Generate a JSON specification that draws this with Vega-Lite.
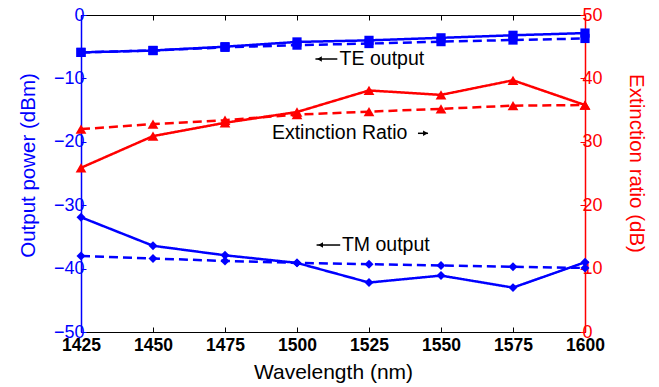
{
  "$schema": "https://vega.github.io/schema/vega-lite/v6.json",
  "autosize": "none",
  "width": 504,
  "height": 317,
  "padding": {"left": 81, "top": 15, "right": 74, "bottom": 55},
  "background": "white",
  "config": {
    "font": "Liberation Sans",
    "view": {"stroke": "black", "strokeWidth": 1}
  },
  "datasets": {
    "pts": [
      {"wl": 1425, "v": -5.9, "s": "TE", "d": "solid"},
      {"wl": 1450, "v": -5.6, "s": "TE", "d": "solid"},
      {"wl": 1475, "v": -5.0, "s": "TE", "d": "solid"},
      {"wl": 1500, "v": -4.25, "s": "TE", "d": "solid"},
      {"wl": 1525, "v": -4.0, "s": "TE", "d": "solid"},
      {"wl": 1550, "v": -3.6, "s": "TE", "d": "solid"},
      {"wl": 1575, "v": -3.2, "s": "TE", "d": "solid"},
      {"wl": 1600, "v": -2.85, "s": "TE", "d": "solid"},
      {"wl": 1425, "v": -5.9, "s": "TE", "d": "dashed"},
      {"wl": 1450, "v": -5.6, "s": "TE", "d": "dashed"},
      {"wl": 1475, "v": -5.1, "s": "TE", "d": "dashed"},
      {"wl": 1500, "v": -4.75, "s": "TE", "d": "dashed"},
      {"wl": 1525, "v": -4.5, "s": "TE", "d": "dashed"},
      {"wl": 1550, "v": -4.2, "s": "TE", "d": "dashed"},
      {"wl": 1575, "v": -3.95, "s": "TE", "d": "dashed"},
      {"wl": 1600, "v": -3.7, "s": "TE", "d": "dashed"},
      {"wl": 1425, "v": -31.9, "s": "TM", "d": "solid"},
      {"wl": 1450, "v": -36.4, "s": "TM", "d": "solid"},
      {"wl": 1475, "v": -37.9, "s": "TM", "d": "solid"},
      {"wl": 1500, "v": -39.1, "s": "TM", "d": "solid"},
      {"wl": 1525, "v": -42.2, "s": "TM", "d": "solid"},
      {"wl": 1550, "v": -41.1, "s": "TM", "d": "solid"},
      {"wl": 1575, "v": -43.0, "s": "TM", "d": "solid"},
      {"wl": 1600, "v": -39.0, "s": "TM", "d": "solid"},
      {"wl": 1425, "v": -38.0, "s": "TM", "d": "dashed"},
      {"wl": 1450, "v": -38.4, "s": "TM", "d": "dashed"},
      {"wl": 1475, "v": -38.8, "s": "TM", "d": "dashed"},
      {"wl": 1500, "v": -39.1, "s": "TM", "d": "dashed"},
      {"wl": 1525, "v": -39.3, "s": "TM", "d": "dashed"},
      {"wl": 1550, "v": -39.5, "s": "TM", "d": "dashed"},
      {"wl": 1575, "v": -39.7, "s": "TM", "d": "dashed"},
      {"wl": 1600, "v": -39.9, "s": "TM", "d": "dashed"},
      {"wl": 1425, "v": 25.9, "s": "ER", "d": "solid"},
      {"wl": 1450, "v": 30.9, "s": "ER", "d": "solid"},
      {"wl": 1475, "v": 33.0, "s": "ER", "d": "solid"},
      {"wl": 1500, "v": 34.7, "s": "ER", "d": "solid"},
      {"wl": 1525, "v": 38.1, "s": "ER", "d": "solid"},
      {"wl": 1550, "v": 37.4, "s": "ER", "d": "solid"},
      {"wl": 1575, "v": 39.7, "s": "ER", "d": "solid"},
      {"wl": 1600, "v": 35.8, "s": "ER", "d": "solid"},
      {"wl": 1425, "v": 32.0, "s": "ER", "d": "dashed"},
      {"wl": 1450, "v": 32.8, "s": "ER", "d": "dashed"},
      {"wl": 1475, "v": 33.4, "s": "ER", "d": "dashed"},
      {"wl": 1500, "v": 34.3, "s": "ER", "d": "dashed"},
      {"wl": 1525, "v": 34.75, "s": "ER", "d": "dashed"},
      {"wl": 1550, "v": 35.2, "s": "ER", "d": "dashed"},
      {"wl": 1575, "v": 35.7, "s": "ER", "d": "dashed"},
      {"wl": 1600, "v": 35.8, "s": "ER", "d": "dashed"}
    ],
    "notes": [
      {"wl": 1514.8, "v": -6.94, "t": "TE output"},
      {"wl": 1491.3, "v": -18.66, "t": "Extinction Ratio"},
      {"wl": 1515.6, "v": -36.28, "t": "TM output"}
    ],
    "arrows": [
      {"x1": 1506.4, "x2": 1514.0, "v": -6.94, "head": 1507.8, "dir": "left"},
      {"x1": 1542.0, "x2": 1545.5, "v": -18.66, "head": 1544.6, "dir": "right"},
      {"x1": 1506.8, "x2": 1515.0, "v": -36.28, "head": 1508.2, "dir": "left"}
    ]
  },
  "resolve": {"scale": {"y": "independent", "shape": "independent"}, "axis": {"x": "independent"}},
  "layer": [
    {
      "data": {"name": "pts"},
      "transform": [{"filter": "datum.s !== 'ER'"}],
      "encoding": {
        "x": {"field": "wl", "type": "quantitative",
          "scale": {"domain": [1425, 1600], "nice": false, "zero": false},
          "axis": {"orient": "bottom", "title": "Wavelength (nm)", "values": [1425, 1450, 1475, 1500, 1525, 1550, 1575, 1600], "format": "d",
            "grid": false, "domainColor": "black", "tickColor": "black", "tickSize": -5, "labelPadding": 9,
            "labelFontSize": 17.5, "labelFontWeight": "bold", "labelColor": "black", "labelFlush": false,
            "titleFontSize": 21, "titleFontWeight": "normal", "titleColor": "black", "titlePadding": 8}},
        "y": {"field": "v", "type": "quantitative",
          "scale": {"domain": [-50, 0], "nice": false, "zero": false},
          "axis": {"orient": "left", "title": "Output power (dBm)", "values": [-50, -40, -30, -20, -10, 0],
            "grid": false, "domainColor": "blue", "domainWidth": 1.5, "tickColor": "blue", "tickSize": -5, "labelPadding": 2,
            "labelFontSize": 18, "labelColor": "blue", "labelFlush": false,
            "titleFontSize": 20.5, "titleFontWeight": "normal", "titleColor": "blue", "titlePadding": 15, "titleY": 150}}
      },
      "layer": [
        {
          "mark": {"type": "line", "color": "blue", "strokeWidth": 2.5},
          "encoding": {
            "detail": {"field": "s"},
            "strokeDash": {"field": "d", "type": "nominal", "scale": {"domain": ["solid", "dashed"], "range": [[1, 0], [9, 5]]}, "legend": null}
          }
        },
        {
          "mark": {"type": "point", "filled": true, "color": "blue", "opacity": 1},
          "encoding": {
            "shape": {"field": "s", "type": "nominal", "scale": {"domain": ["TE", "TM"], "range": ["square", "diamond"]}, "legend": null},
            "size": {"field": "s", "type": "nominal", "scale": {"domain": ["TE", "TM"], "range": [85, 80]}, "legend": null}
          }
        }
      ]
    },
    {
      "data": {"name": "pts"},
      "transform": [{"filter": "datum.s === 'ER'"}],
      "encoding": {
        "x": {"field": "wl", "type": "quantitative",
          "scale": {"domain": [1425, 1600], "nice": false, "zero": false},
          "axis": {"orient": "top", "values": [1425, 1450, 1475, 1500, 1525, 1550, 1575, 1600], "labels": false, "title": null,
            "grid": false, "domainColor": "black", "tickColor": "black", "tickSize": -5}},
        "y": {"field": "v", "type": "quantitative",
          "scale": {"domain": [0, 50], "nice": false, "zero": false},
          "axis": {"orient": "right", "title": "Extinction ratio (dB)", "values": [0, 10, 20, 30, 40, 50],
            "grid": false, "domainColor": "red", "domainWidth": 1.5, "tickColor": "red", "tickSize": -5, "labelPadding": 2,
            "labelFontSize": 18, "labelColor": "red", "labelFlush": false,
            "titleFontSize": 20.5, "titleFontWeight": "normal", "titleColor": "red", "titlePadding": 23, "titleY": 148}}
      },
      "layer": [
        {
          "mark": {"type": "line", "color": "red", "strokeWidth": 2.5},
          "encoding": {
            "strokeDash": {"field": "d", "type": "nominal", "scale": {"domain": ["solid", "dashed"], "range": [[1, 0], [9, 5]]}, "legend": null}
          }
        },
        {
          "mark": {"type": "point", "filled": true, "color": "red", "opacity": 1, "size": 115, "shape": "triangle-up"},
          "encoding": {"detail": {"field": "d"}}
        }
      ]
    },
    {
      "data": {"name": "notes"},
      "mark": {"type": "text", "align": "left", "baseline": "middle", "fontSize": 19.5, "color": "black"},
      "encoding": {
        "x": {"field": "wl", "type": "quantitative", "scale": {"domain": [1425, 1600], "nice": false, "zero": false}, "axis": null},
        "y": {"field": "v", "type": "quantitative", "scale": {"domain": [-50, 0], "nice": false, "zero": false}, "axis": null},
        "text": {"field": "t"}
      }
    },
    {
      "data": {"name": "arrows"},
      "mark": {"type": "rule", "color": "black", "strokeWidth": 1.5},
      "encoding": {
        "x": {"field": "x1", "type": "quantitative", "scale": {"domain": [1425, 1600], "nice": false, "zero": false}, "axis": null},
        "x2": {"field": "x2"},
        "y": {"field": "v", "type": "quantitative", "scale": {"domain": [-50, 0], "nice": false, "zero": false}, "axis": null}
      }
    },
    {
      "data": {"name": "arrows"},
      "transform": [{"filter": "datum.dir === 'left'"}],
      "mark": {"type": "point", "filled": true, "color": "black", "opacity": 1, "size": 30, "shape": "triangle-left"},
      "encoding": {
        "x": {"field": "head", "type": "quantitative", "scale": {"domain": [1425, 1600], "nice": false, "zero": false}, "axis": null},
        "y": {"field": "v", "type": "quantitative", "scale": {"domain": [-50, 0], "nice": false, "zero": false}, "axis": null}
      }
    },
    {
      "data": {"name": "arrows"},
      "transform": [{"filter": "datum.dir === 'right'"}],
      "mark": {"type": "point", "filled": true, "color": "black", "opacity": 1, "size": 30, "shape": "triangle-right"},
      "encoding": {
        "x": {"field": "head", "type": "quantitative", "scale": {"domain": [1425, 1600], "nice": false, "zero": false}, "axis": null},
        "y": {"field": "v", "type": "quantitative", "scale": {"domain": [-50, 0], "nice": false, "zero": false}, "axis": null}
      }
    }
  ]
}
